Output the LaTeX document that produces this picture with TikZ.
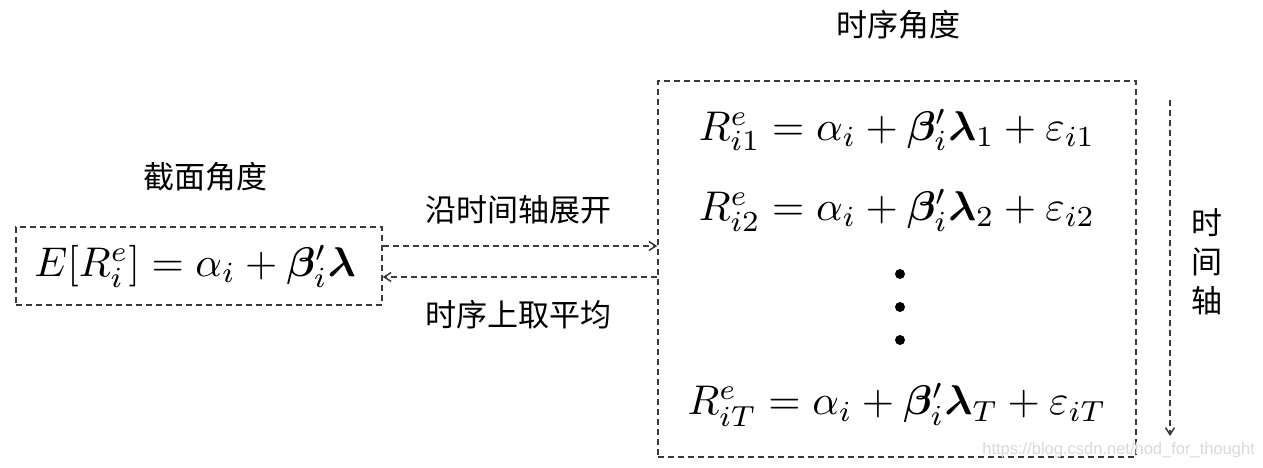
\documentclass[tikz,border=0pt]{standalone}
\usepackage{amsmath,bm}
\usepackage{fontspec}
\newfontfamily\cjk{Noto Sans CJK SC}
\usetikzlibrary{arrows.meta}
\definecolor{dline}{HTML}{3A3A3A}
\tikzset{
  dbox/.style={draw=dline, line width=1.5pt, dash pattern=on 6pt off 4pt, inner sep=0pt},
  darrow/.style={draw=dline, line width=1.5pt, dash pattern=on 6pt off 4pt, -{Straight Barb[length=7pt,width=9pt,line width=1.5pt]}},
  eqn/.style={scale=4.15, inner sep=0pt, anchor=center},
  cjklab/.style={font=\cjk\fontsize{31}{36}\selectfont, inner sep=0pt},
  tdot/.style={circle, fill=black, inner sep=0pt, minimum size=10pt},
}
\begin{document}
\begin{tikzpicture}[x=1pt,y=-1pt]
\useasboundingbox (0,0) rectangle (1263,468);
% boxes
\node[dbox, minimum width=366pt, minimum height=78pt] (L) at (199,266) {};
\node[dbox, minimum width=478pt, minimum height=376pt] (R) at (897,269) {};
% left equation
\node[eqn] (eqL) at (195,266) {$E[R_i^e]=\alpha_i+\bm{\beta}_i'\bm{\lambda}$};
% right equations
\node[eqn] (eq1) at (897,130) {$R_{i1}^e=\alpha_i+\bm{\beta}_i'\bm{\lambda}_1+\varepsilon_{i1}$};
\node[eqn] (eq2) at (897,210) {$R_{i2}^e=\alpha_i+\bm{\beta}_i'\bm{\lambda}_2+\varepsilon_{i2}$};
\node[eqn] (eqT) at (897,405) {$R_{iT}^e=\alpha_i+\bm{\beta}_i'\bm{\lambda}_T+\varepsilon_{iT}$};
\node[tdot] (d1) at (900,274) {};
\node[tdot] (d2) at (900,307) {};
\node[tdot] (d3) at (900,340) {};
% labels
\node[cjklab] (lab1) at (205,177) {截面角度};
\node[cjklab] (lab2) at (898,25) {时序角度};
\node[cjklab] (lab3) at (518,210) {沿时间轴展开};
\node[cjklab] (lab4) at (518,315) {时序上取平均};
\node[cjklab, align=center] (lab5) at (1207,262) {时\\[3pt]间\\[3pt]轴};
% arrows
\draw[darrow] (L.east |- 0,246) -- (R.west |- 0,246);
\draw[darrow] (R.west |- 0,277) -- (L.east |- 0,277);
\coordinate (t0) at (1170,100);
\coordinate (t1) at (1170,436);
\draw[darrow] (t0) -- (t1);
% watermark
\node[font=\fontspec{Liberation Sans}\fontsize{16.5}{19}\selectfont, text=black!15, inner sep=0pt, anchor=east] (wm) at (1255,450) {https://blog.csdn.net/hod\_for\_thought};
\end{tikzpicture}
\end{document}
